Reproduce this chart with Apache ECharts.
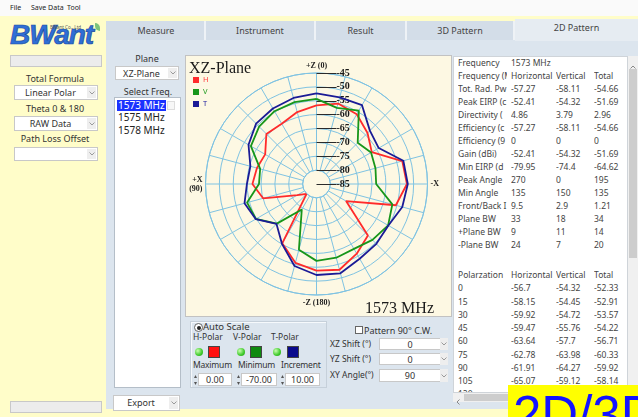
<!DOCTYPE html>
<html>
<head>
<meta charset="utf-8">
<script src="https://cdn.jsdelivr.net/npm/echarts@6/dist/echarts.min.js"></script>
<style>
html, body { margin: 0; padding: 0; }
body {
  width: 638px; height: 417px; position: relative; overflow: hidden;
  background: #fffdc9; font-family: "Noto Sans", sans-serif; font-size: 9px; color: #333;
}
.a { position: absolute; white-space: nowrap; }
.menubar { left: 0; top: 0; width: 638px; height: 16px; background: #fafafa; }
.menubar span { position: absolute; top: 0; line-height: 16px; font-size: 7px; color: #222; }
.lbl { text-align: center; font-size: 9px; color: #333; }
.dd { background: #fff; border: 1px solid #c8c8c8; box-sizing: border-box; font-size: 9px; color: #333; line-height: 13px; }
.dd .txt { position: absolute; left: 0; right: 11px; top: 0; bottom: 0; text-align: center; }
.dd .arr { position: absolute; right: 1px; top: 1px; bottom: 1px; width: 9px; background: #eeeeee;
  display: flex; align-items: center; justify-content: center; }
.box { background: #ececec; border: 1px solid #c8c8c8; box-sizing: border-box; }
.tabstrip { left: 106px; top: 21px; width: 532px; height: 19px; background: #d3dde8; }
.tab { top: 21px; height: 19px; line-height: 19px; text-align: center; font-size: 9px; color: #444;
  border-right: 2px solid #eef2f6; box-sizing: border-box; }
.tabbody { left: 106px; top: 40px; width: 532px; height: 369px; background: #dce5ee; }
.list { left: 114px; top: 97px; width: 67px; height: 291px; background: #fff; border: 1px solid #b4bec8; box-sizing: border-box; }
.item { font-size: 10px; color: #222; line-height: 11px; }
#chart { position: absolute; left: 185px; top: 55px; width: 267px; height: 262px; border: 1px solid #c2c2c2; box-sizing: border-box; }
.tbl { left: 453px; top: 56px; width: 175px; height: 337px; background: #fff; border: 1px solid #cfd4d9; box-sizing: border-box; overflow: hidden; }
.cell { position: absolute; overflow: hidden; white-space: nowrap; font-size: 8.5px; color: #444; line-height: 12px; height: 12px; }
.sq { width: 12px; height: 12px; box-sizing: border-box; border: 1px solid #444; }
.led { width: 8px; height: 8px; border-radius: 50%; background: radial-gradient(circle at 35% 35%, #c9ffb0, #3ec92a 60%, #2b9a1e); }
.inp { background: #fff; border: 1px solid #c8c8c8; box-sizing: border-box; font-size: 9px; color: #333; text-align: center; line-height: 11px; }
.spin { width: 3px; height: 12px; }
.small { font-size: 8.5px; color: #333; }
</style>
</head>
<body>

<!-- menu bar -->
<div class="a menubar">
  <span style="left:10px">File</span><span style="left:31px">Save Data</span><span style="left:67px">Tool</span>
</div>

<!-- left settings column -->
<div class="a" style="left:10px;top:19px;font:italic bold 28px 'Liberation Sans';color:#2f6fd6;letter-spacing:-1px;-webkit-text-stroke:0.7px #1b4aa3;">BWant</div>
<div class="a" style="left:50px;top:24px;font-size:4.5px;color:#555;">BWant Co., Ltd</div>
<div class="a" style="left:95px;top:23px;width:5px;height:8px;border-radius:0 5px 0 5px;background:#7cc47a;"></div>
<div class="a box" style="left:10px;top:55px;width:92px;height:12px;"></div>
<div class="a lbl" style="left:0;top:72px;width:110px;">Total Formula</div>
<div class="a dd" style="left:14px;top:85px;width:84px;height:15px;"><div class="txt">Linear Polar</div><div class="arr"><svg width="6" height="4"><polyline points="0.5,0.5 3,3 5.5,0.5" fill="none" stroke="#9a9a9a" stroke-width="1"/></svg></div></div>
<div class="a lbl" style="left:0;top:102px;width:110px;">Theta 0 &amp; 180</div>
<div class="a dd" style="left:14px;top:116px;width:84px;height:15px;"><div class="txt">RAW Data</div><div class="arr"><svg width="6" height="4"><polyline points="0.5,0.5 3,3 5.5,0.5" fill="none" stroke="#9a9a9a" stroke-width="1"/></svg></div></div>
<div class="a lbl" style="left:0;top:132px;width:110px;">Path Loss Offset</div>
<div class="a dd" style="left:14px;top:147px;width:84px;height:14px;"><div class="txt"></div><div class="arr"><svg width="6" height="4"><polyline points="0.5,0.5 3,3 5.5,0.5" fill="none" stroke="#9a9a9a" stroke-width="1"/></svg></div></div>
<div class="a box" style="left:10px;top:401px;width:92px;height:12px;"></div>

<!-- tabs -->
<div class="a tabstrip"></div>
<div class="a tab" style="left:108px;width:98px;">Measure</div>
<div class="a tab" style="left:206px;width:110px;">Instrument</div>
<div class="a tab" style="left:316px;width:91px;">Result</div>
<div class="a tab" style="left:407px;width:108px;">3D Pattern</div>
<div class="a tabbody"></div>
<div class="a tab" style="left:515px;top:19px;width:123px;height:22px;line-height:18px;background:#e6ecf2;border:none;">2D Pattern</div>

<!-- plane / frequency selection -->
<div class="a lbl" style="left:117px;top:52px;width:60px;">Plane</div>
<div class="a dd" style="left:115px;top:66px;width:64px;height:14px;"><div class="txt">XZ-Plane</div><div class="arr"><svg width="6" height="4"><polyline points="0.5,0.5 3,3 5.5,0.5" fill="none" stroke="#9a9a9a" stroke-width="1"/></svg></div></div>
<div class="a lbl" style="left:112px;top:85px;width:72px;">Select Freq.</div>
<div class="a list"></div>
<div id="freqList"></div>
<div class="a dd" style="left:113px;top:395px;width:67px;height:16px;"><div class="txt" style="line-height:14px;">Export</div><div class="arr"><svg width="6" height="4"><polyline points="0.5,0.5 3,3 5.5,0.5" fill="none" stroke="#9a9a9a" stroke-width="1"/></svg></div></div>

<!-- polar pattern -->
<div id="chart"></div>

<!-- scale controls -->
<div class="a" style="left:190px;top:321px;width:137px;height:67px;border:1px solid #c6d0da;box-shadow:inset 1px 1px 0 #f6f9fc;box-sizing:border-box;"></div>
<div class="a" style="left:194px;top:323px;width:7px;height:7px;border:1px solid #666;border-radius:50%;background:#fff;"></div>
<div class="a" style="left:196.5px;top:325.5px;width:4px;height:4px;border-radius:50%;background:#222;"></div>
<div class="a" style="left:203px;top:320px;font-size:9.5px;color:#333;">Auto Scale</div>
<div class="a small" style="left:193px;top:331px;">H-Polar</div>
<div class="a small" style="left:233px;top:331px;">V-Polar</div>
<div class="a small" style="left:271px;top:331px;">T-Polar</div>
<div class="a led" style="left:195px;top:348px;"></div>
<div class="a sq" style="left:208px;top:346px;background:#ff1010;"></div>
<div class="a led" style="left:237px;top:348px;"></div>
<div class="a sq" style="left:250px;top:346px;background:#0f8a0f;"></div>
<div class="a led" style="left:273px;top:348px;"></div>
<div class="a sq" style="left:287px;top:346px;background:#0a0a8c;"></div>
<div class="a small" style="left:193px;top:359px;letter-spacing:-0.2px;">Maximum</div>
<div class="a small" style="left:238px;top:359px;letter-spacing:-0.2px;">Minimum</div>
<div class="a small" style="left:281px;top:359px;letter-spacing:-0.2px;">Increment</div>
<div class="a spin" style="left:194px;top:374px;"><svg width="3" height="12"><polygon points="1.5,1 3,4 0,4" fill="#555"/><polygon points="0,8 3,8 1.5,11" fill="#555"/></svg></div>
<div class="a inp" style="left:198px;top:373px;width:34px;height:13px;">0.00</div>
<div class="a spin" style="left:237px;top:374px;"><svg width="3" height="12"><polygon points="1.5,1 3,4 0,4" fill="#555"/><polygon points="0,8 3,8 1.5,11" fill="#555"/></svg></div>
<div class="a inp" style="left:241px;top:373px;width:36px;height:13px;">-70.00</div>
<div class="a spin" style="left:281px;top:374px;"><svg width="3" height="12"><polygon points="1.5,1 3,4 0,4" fill="#555"/><polygon points="0,8 3,8 1.5,11" fill="#555"/></svg></div>
<div class="a inp" style="left:285px;top:373px;width:35px;height:13px;">10.00</div>

<div class="a" style="left:355px;top:326px;width:8px;height:8px;border:1px solid #666;background:#fff;box-sizing:border-box;"></div>
<div class="a" style="left:364px;top:324px;font-size:9px;">Pattern 90° C.W.</div>
<div class="a" style="left:330px;top:338px;font-size:8.5px;">XZ Shift (°)</div>
<div class="a inp" style="left:379px;top:338px;width:62px;height:12px;">0</div>
<div class="a" style="left:440px;top:338px;width:8px;height:12px;background:#eeeeee;display:flex;align-items:center;justify-content:center;"><svg width="6" height="4"><polyline points="0.5,0.5 3,3 5.5,0.5" fill="none" stroke="#9a9a9a" stroke-width="1"/></svg></div>
<div class="a" style="left:330px;top:353px;font-size:8.5px;">YZ Shift (°)</div>
<div class="a inp" style="left:379px;top:353px;width:62px;height:12px;">0</div>
<div class="a" style="left:440px;top:353px;width:8px;height:12px;background:#eeeeee;display:flex;align-items:center;justify-content:center;"><svg width="6" height="4"><polyline points="0.5,0.5 3,3 5.5,0.5" fill="none" stroke="#9a9a9a" stroke-width="1"/></svg></div>
<div class="a" style="left:330px;top:369px;font-size:8.5px;">XY Angle(°)</div>
<div class="a inp" style="left:379px;top:369px;width:62px;height:13px;line-height:12px;">90</div>
<div class="a" style="left:440px;top:369px;width:8px;height:13px;background:#eeeeee;display:flex;align-items:center;justify-content:center;"><svg width="6" height="4"><polyline points="0.5,0.5 3,3 5.5,0.5" fill="none" stroke="#9a9a9a" stroke-width="1"/></svg></div>

<!-- result table -->
<div class="a tbl" id="tbl"></div>
<div class="a" style="left:628px;top:56px;width:10px;height:337px;background:#f0f0f0;"></div>
<div class="a" style="left:629px;top:69px;width:8px;height:189px;background:#cdcdcd;"></div>
<div class="a" style="left:630px;top:59px;"><svg width="6" height="4"><polyline points="0.5,3.5 3,1 5.5,3.5" fill="none" stroke="#888" stroke-width="1"/></svg></div>
<div class="a" style="left:453px;top:393px;width:185px;height:9px;background:#f0f0f0;"></div>
<div class="a" style="left:456px;top:395px;"><svg width="4" height="6"><polyline points="3.5,0.5 1,3 3.5,5.5" fill="none" stroke="#888" stroke-width="1"/></svg></div>
<div class="a" style="left:464px;top:394px;width:140px;height:7px;background:#cdcdcd;"></div>

<!-- caption box -->
<div class="a" style="left:508px;top:385px;width:130px;height:32px;background:#ffff00;overflow:hidden;">
  <div style="position:absolute;left:5px;top:4.3px;font-family:'Liberation Sans';font-size:51px;line-height:51px;color:#1414ff;white-space:nowrap;">2D/3D</div>
</div>

<script>
// Pattern angles (degrees, counter-clockwise from +Z) and measured levels (dB)
const angles = [0, 15, 30, 45, 60, 75, 90, 105, 120, 135, 150, 165,
                180, 195, 210, 225, 240, 255, 270, 285, 300, 315, 330, 345];
const hPolar = [-56.7, -58.15, -59.92, -59.47, -63.64, -62.78, -61.91, -65.07, -77.0, -79.95, -60.3, -55.6,
                -53.8, -53.0, -56.0, -58.8, -72.7, -55.4, -52.41, -53.0, -62.0, -59.0, -56.0, -55.0];
const vPolar = [-54.32, -54.45, -54.72, -55.76, -57.7, -63.98, -64.27, -59.12, -59.8, -64.8, -74.4, -60.5,
                -57.3, -57.5, -58.0, -56.5, -55.2, -56.7, -63.5, -63.0, -62.3, -64.0, -54.5, -56.6];
const tPolar = [-52.33, -52.91, -53.57, -54.22, -56.71, -60.33, -59.92, -58.14, -59.7, -64.62, -60.1, -54.4,
                -52.2, -51.69, -53.9, -54.5, -55.1, -53.0, -52.1, -52.6, -59.1, -57.8, -52.2, -52.7];

// Radial scale and direction captions
const ringMin = -85, ringInner = -80, ringMax = -45, ringStep = 5;
const dirNames = ['+Z (0)', '+X\n(90)', '-Z (180)', '-X'];
const dirAngles = [0, 90, 180, 270];

// Frequency list
const freqs = ['1573 MHz', '1575 MHz', '1578 MHz'];

// Summary table
const colHeads = ['Horizontal', 'Vertical', 'Total'];
const statNames = ['Tot. Rad. Pw', 'Peak EIRP (c', 'Directivity (', 'Efficiency (c', 'Efficiency (9',
                   'Gain (dBi)', 'Min EIRP (d', 'Peak Angle', 'Min Angle', 'Front/Back I',
                   'Plane BW', '+Plane BW', '-Plane BW'];
const statH = ['-57.27', '-52.41', '4.86', '-57.27', '0', '-52.41', '-79.95', '270', '135', '9.5', '33', '9', '24'];
const statV = ['-58.11', '-54.32', '3.79', '-58.11', '0', '-54.32', '-74.4', '0', '150', '2.9', '18', '11', '7'];
const statT = ['-54.66', '-51.69', '2.96', '-54.66', '0', '-51.69', '-64.62', '195', '135', '1.21', '34', '14', '20'];

// ---- frequency list box ----
const listEl = document.getElementById('freqList');
freqs.forEach((f, i) => {
  const d = document.createElement('div');
  d.className = 'a item';
  d.style.left = '117px';
  d.style.top = (99.5 + i * 12.7) + 'px';
  d.style.height = '11px';
  d.style.padding = '0 1px';
  if (i === 0) { d.style.background = '#1a32ff'; d.style.color = '#fff'; d.style.width = '47px'; }
  d.textContent = f;
  listEl.appendChild(d);
});
const btn = document.createElement('div');
btn.className = 'a';
btn.style.cssText = 'left:167px;top:101px;width:8px;height:9px;border:1px solid #ddd;background:#f7f7f7;box-sizing:border-box;';
listEl.appendChild(btn);

// ---- summary table ----
const tbl = document.getElementById('tbl');
const colX = [4, 57, 102, 140];
const colW = [49, 42, 36, 33];
function addRow(cells, centerY) {
  cells.forEach((t, c) => {
    const d = document.createElement('div');
    d.className = 'cell';
    d.style.left = colX[c] + 'px';
    d.style.width = (c === 1 && cells.length === 2 ? 41 : colW[c]) + 'px';
    d.style.top = (centerY - 56 - 7) + 'px';
    d.textContent = t;
    tbl.appendChild(d);
  });
}
addRow(['Frequency', freqs[0]], 62.7);
addRow(['Frequency (MHz)', ...colHeads], 75.7);
statNames.forEach((n, i) => addRow([n, statH[i], statV[i], statT[i]], 88.7 + i * 13));
addRow(['Polarzation', ...colHeads], 275);
for (let i = 0; i < 9; i++) {
  addRow([String(angles[i]), String(hPolar[i]), String(vPolar[i]), String(tPolar[i])], 288.3 + i * 13.25);
}

// ---- polar pattern ----
function loop(values) {
  const pts = angles.map((a, i) => [values[i], a]);
  pts.push([values[0], 360]);
  return pts;
}

const gridColor = '#7fc3e2';
const center = [130.5, 128];
const outerR = 111;
const innerR = outerR * (ringInner - ringMin) / (ringMax - ringMin);
const serif = 'Liberation Serif';

const chart = echarts.init(document.getElementById('chart'), null, { renderer: 'canvas' });
chart.setOption({
  backgroundColor: '#fdf8e3',
  animation: false,
  title: [
    { text: 'XZ-Plane', left: 3, top: 5, padding: 0,
      textStyle: { fontFamily: serif, fontSize: 16, fontWeight: 'normal', color: '#1a1a1a' } },
    { text: '1573 MHz', right: 17, top: 245, padding: 0,
      textStyle: { fontFamily: serif, fontSize: 16, fontWeight: 'normal', color: '#1a1a1a' } }
  ],
  legend: {
    orient: 'vertical', left: 7, top: 20, padding: 0,
    itemWidth: 6, itemHeight: 6, itemGap: 4, icon: 'rect',
    textStyle: { fontSize: 7.5, fontFamily: 'Noto Sans', padding: [0, 0, 0, -1] },
    data: [
      { name: 'H', textStyle: { color: '#ff3b3b' } },
      { name: 'V', textStyle: { color: '#1f9a1f' } },
      { name: 'T', textStyle: { color: '#2222a0' } }
    ]
  },
  polar: [
    { center: center, radius: [innerR, outerR] },
    { center: center, radius: [0, outerR] }
  ],
  angleAxis: [
    {
      polarIndex: 0, type: 'value', min: 0, max: 360, interval: 15,
      startAngle: 90, clockwise: false,
      axisLine: { show: true, lineStyle: { color: gridColor, width: 1 } },
      axisTick: { show: false },
      splitLine: { show: true, lineStyle: { color: gridColor, width: 1 } },
      axisLabel: {
        show: true, margin: 3,
        fontFamily: serif, fontWeight: 'bold', fontSize: 8, lineHeight: 9, color: '#222',
        formatter: v => { const k = dirAngles.indexOf(v); return k < 0 ? '' : dirNames[k]; }
      }
    },
    {
      polarIndex: 1, type: 'value', min: 0, max: 360, startAngle: 90, clockwise: false, show: false
    }
  ],
  radiusAxis: [
    {
      polarIndex: 0, type: 'value', min: ringInner, max: ringMax, interval: ringStep,
      axisLine: { show: false }, axisTick: { show: false }, axisLabel: { show: false },
      splitLine: { show: true, lineStyle: { color: gridColor, width: 1 } }
    },
    {
      // scale labels sit to the right of the +Z spoke
      polarIndex: 1, type: 'value', min: ringMin, max: ringMax, interval: ringStep,
      axisLine: { show: false }, splitLine: { show: false },
      axisTick: { show: true, length: -20, lineStyle: { color: '#2a2a2a', width: 1 } },
      axisLabel: {
        show: true, margin: -20, align: 'left', verticalAlign: 'middle',
        showMinLabel: true, showMaxLabel: true,
        fontFamily: serif, fontWeight: 'bold', fontSize: 10, color: '#1a1a1a'
      }
    }
  ],
  series: [
    { name: 'H', type: 'line', coordinateSystem: 'polar', polarIndex: 0, data: loop(hPolar),
      symbol: 'none', color: '#ff2b2b', lineStyle: { width: 1.8 }, z: 3 },
    { name: 'V', type: 'line', coordinateSystem: 'polar', polarIndex: 0, data: loop(vPolar),
      symbol: 'none', color: '#18961a', lineStyle: { width: 1.8 }, z: 3 },
    { name: 'T', type: 'line', coordinateSystem: 'polar', polarIndex: 0, data: loop(tPolar),
      symbol: 'none', color: '#1b1b96', lineStyle: { width: 1.8 }, z: 3 }
  ]
});
</script>
</body>
</html>
